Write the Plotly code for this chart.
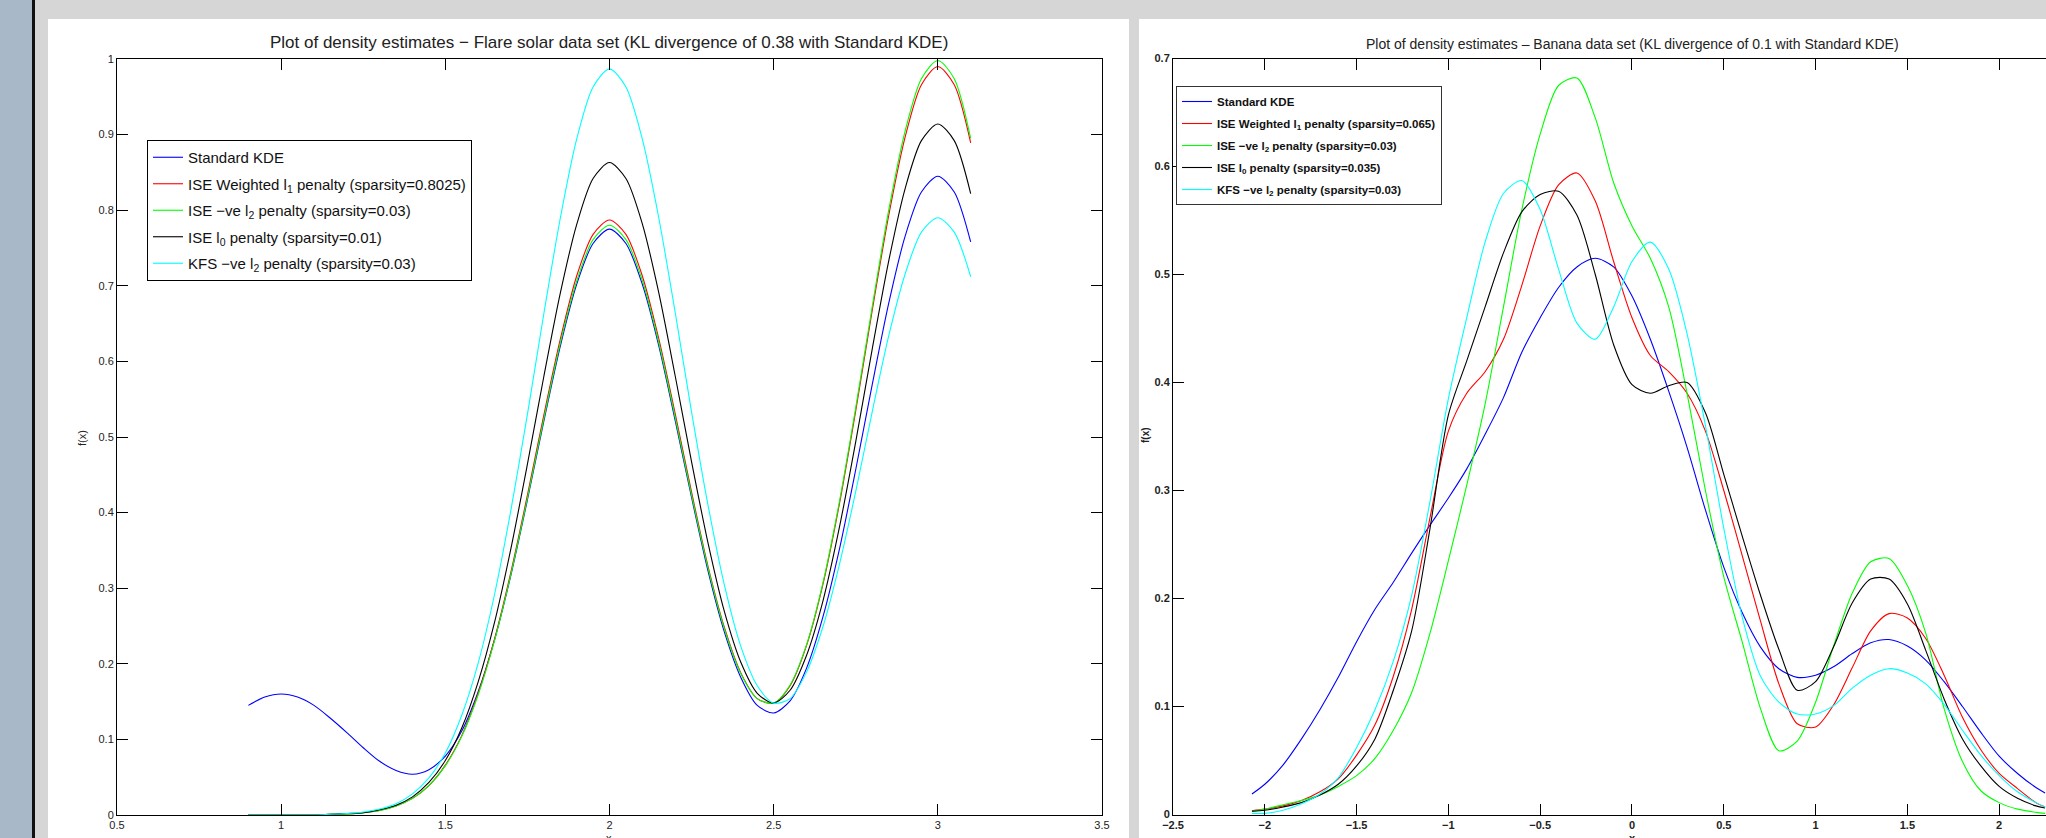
import plotly.graph_objects as go

# ---------------- data: Flare solar (left panel) ----------------
X_FLARE = [0.9, 0.95, 1.0, 1.05, 1.1, 1.15, 1.2, 1.25, 1.3, 1.35, 1.4, 1.45, 1.5, 1.55, 1.6,
           1.65, 1.7, 1.75, 1.8, 1.85, 1.9, 1.95, 2.0, 2.05, 2.1, 2.15, 2.2, 2.25, 2.3, 2.35,
           2.4, 2.45, 2.5, 2.55, 2.6, 2.65, 2.7, 2.75, 2.8, 2.85, 2.9, 2.95, 3.0, 3.05, 3.1]
FLARE_STD = [0.145, 0.156, 0.160, 0.156, 0.145, 0.128, 0.109, 0.089, 0.071, 0.059, 0.054, 0.060,
             0.078, 0.111, 0.163, 0.232, 0.318, 0.417, 0.521, 0.620, 0.702, 0.756, 0.775, 0.756,
             0.702, 0.621, 0.522, 0.420, 0.323, 0.242, 0.182, 0.145, 0.135, 0.151, 0.194, 0.262,
             0.351, 0.457, 0.569, 0.676, 0.765, 0.824, 0.845, 0.824, 0.758]
FLARE_L1 = [0, 0, 0, 0, 0, 0.001, 0.001, 0.003, 0.006, 0.012, 0.022, 0.039, 0.066, 0.105, 0.161,
            0.233, 0.322, 0.423, 0.529, 0.629, 0.713, 0.768, 0.787, 0.768, 0.713, 0.630, 0.531,
            0.427, 0.329, 0.248, 0.188, 0.154, 0.148, 0.171, 0.224, 0.305, 0.411, 0.535, 0.667,
            0.792, 0.896, 0.966, 0.990, 0.966, 0.889]
FLARE_L2 = [0, 0, 0, 0, 0, 0.001, 0.001, 0.003, 0.006, 0.012, 0.022, 0.039, 0.065, 0.104, 0.159,
            0.231, 0.319, 0.419, 0.524, 0.624, 0.706, 0.761, 0.780, 0.761, 0.707, 0.625, 0.526,
            0.423, 0.327, 0.246, 0.187, 0.154, 0.148, 0.172, 0.225, 0.307, 0.414, 0.539, 0.672,
            0.799, 0.904, 0.974, 0.998, 0.974, 0.895]
FLARE_L0 = [0, 0, 0, 0, 0, 0.001, 0.002, 0.003, 0.007, 0.013, 0.024, 0.043, 0.072, 0.115, 0.176,
            0.255, 0.353, 0.464, 0.580, 0.690, 0.781, 0.842, 0.863, 0.842, 0.782, 0.691, 0.581,
            0.467, 0.360, 0.269, 0.202, 0.161, 0.148, 0.165, 0.211, 0.283, 0.380, 0.494, 0.616,
            0.732, 0.828, 0.892, 0.914, 0.892, 0.822]
FLARE_KFS = [0, 0, 0, 0, 0, 0.001, 0.002, 0.004, 0.008, 0.015, 0.028, 0.049, 0.082, 0.132, 0.201,
             0.292, 0.404, 0.530, 0.663, 0.789, 0.894, 0.963, 0.987, 0.963, 0.894, 0.790, 0.665,
             0.533, 0.410, 0.304, 0.223, 0.171, 0.148, 0.154, 0.189, 0.249, 0.331, 0.428, 0.533,
             0.633, 0.715, 0.771, 0.790, 0.771, 0.712]

# ---------------- data: Banana (right panel) ----------------
X_BANANA = [-2.07, -2.0, -1.9, -1.8, -1.7, -1.6, -1.5, -1.4, -1.3, -1.2, -1.1, -1.0, -0.9, -0.8,
            -0.7, -0.6, -0.5, -0.4, -0.3, -0.2, -0.1, 0.0, 0.1, 0.2, 0.3, 0.4, 0.5, 0.6, 0.7,
            0.8, 0.9, 1.0, 1.1, 1.2, 1.3, 1.4, 1.5, 1.6, 1.7, 1.8, 1.9, 2.0, 2.1, 2.2, 2.25]
BANANA_STD = [0.019, 0.028, 0.046, 0.070, 0.097, 0.127, 0.160, 0.190, 0.215, 0.242, 0.268, 0.293,
              0.320, 0.352, 0.386, 0.428, 0.460, 0.488, 0.507, 0.515, 0.507, 0.480, 0.440, 0.392,
              0.340, 0.282, 0.229, 0.187, 0.155, 0.135, 0.127, 0.129, 0.137, 0.149, 0.159, 0.162,
              0.156, 0.143, 0.123, 0.100, 0.076, 0.054, 0.038, 0.025, 0.020]
BANANA_L1 = [0.0035, 0.005, 0.008, 0.013, 0.021, 0.033, 0.055, 0.083, 0.128, 0.190, 0.275, 0.355,
             0.390, 0.410, 0.440, 0.490, 0.545, 0.583, 0.594, 0.568, 0.512, 0.460, 0.425, 0.410,
             0.390, 0.355, 0.300, 0.240, 0.179, 0.121, 0.084, 0.081, 0.102, 0.136, 0.170, 0.186,
             0.182, 0.163, 0.129, 0.090, 0.060, 0.038, 0.024, 0.011, 0.007]
BANANA_L2 = [0.003, 0.005, 0.009, 0.013, 0.018, 0.026, 0.036, 0.052, 0.078, 0.113, 0.168, 0.235,
             0.305, 0.380, 0.470, 0.560, 0.630, 0.675, 0.682, 0.645, 0.585, 0.545, 0.515, 0.470,
             0.390, 0.300, 0.220, 0.160, 0.098, 0.059, 0.068, 0.104, 0.157, 0.205, 0.234, 0.237,
             0.212, 0.168, 0.098, 0.049, 0.022, 0.011, 0.005, 0.002, 0.001]
BANANA_L0 = [0.003, 0.004, 0.007, 0.011, 0.018, 0.028, 0.045, 0.070, 0.115, 0.170, 0.265, 0.370,
             0.420, 0.470, 0.520, 0.558, 0.574, 0.577, 0.555, 0.500, 0.435, 0.398, 0.390, 0.397,
             0.400, 0.372, 0.315, 0.258, 0.203, 0.153, 0.115, 0.123, 0.156, 0.196, 0.218, 0.218,
             0.195, 0.152, 0.107, 0.070, 0.045, 0.026, 0.015, 0.008, 0.006]
BANANA_KFS = [0.001, 0.001, 0.004, 0.010, 0.019, 0.034, 0.062, 0.097, 0.142, 0.203, 0.290, 0.385,
              0.460, 0.530, 0.575, 0.587, 0.560, 0.505, 0.455, 0.440, 0.470, 0.512, 0.530, 0.505,
              0.445, 0.360, 0.265, 0.183, 0.128, 0.104, 0.093, 0.093, 0.101, 0.117, 0.129, 0.135,
              0.131, 0.121, 0.102, 0.078, 0.055, 0.036, 0.021, 0.011, 0.007]

FLARE_NAMES = ["Standard KDE",
               "ISE Weighted l<sub>1</sub> penalty (sparsity=0.8025)",
               "ISE −ve l<sub>2</sub> penalty (sparsity=0.03)",
               "ISE l<sub>0</sub> penalty (sparsity=0.01)",
               "KFS −ve l<sub>2</sub> penalty (sparsity=0.03)"]
BANANA_NAMES = ["Standard KDE",
                "ISE Weighted l<sub>1</sub> penalty (sparsity=0.065)",
                "ISE −ve l<sub>2</sub> penalty (sparsity=0.03)",
                "ISE l<sub>0</sub> penalty (sparsity=0.035)",
                "KFS −ve l<sub>2</sub> penalty (sparsity=0.03)"]
COLORS = ["#0000ff", "#ff0000", "#00ff00", "#000000", "#00ffff"]

FLARE_XTICKS = [0.5, 1, 1.5, 2, 2.5, 3, 3.5]
FLARE_XTEXT = ["0.5", "1", "1.5", "2", "2.5", "3", "3.5"]
FLARE_YTICKS = [0, 0.1, 0.2, 0.3, 0.4, 0.5, 0.6, 0.7, 0.8, 0.9, 1]
FLARE_YTEXT = ["0", "0.1", "0.2", "0.3", "0.4", "0.5", "0.6", "0.7", "0.8", "0.9", "1"]
BANANA_XTICKS = [-2.5, -2, -1.5, -1, -0.5, 0, 0.5, 1, 1.5, 2]
BANANA_XTEXT = ["−2.5", "−2", "−1.5", "−1", "−0.5", "0", "0.5", "1", "1.5", "2"]
BANANA_YTICKS = [0, 0.1, 0.2, 0.3, 0.4, 0.5, 0.6, 0.7]
BANANA_YTEXT = ["0", "0.1", "0.2", "0.3", "0.4", "0.5", "0.6", "0.7"]

W, H = 2046, 838
def px(x):
    return x / W
def py(y):
    return 1 - y / H

FONT = "Liberation Sans, Arial, Helvetica, sans-serif"

fig = go.Figure()
flare_series = [FLARE_STD, FLARE_L1, FLARE_L2, FLARE_L0, FLARE_KFS]
for i, (ys, nm) in enumerate(zip(flare_series, FLARE_NAMES)):
    fig.add_trace(go.Scatter(x=X_FLARE, y=ys, mode="lines", name=nm,
                             line=dict(color=COLORS[i], width=1.1, shape="spline", smoothing=0.8),
                             xaxis="x", yaxis="y", legend="legend", legendgroup="f%d" % i,
                             hoverinfo="skip"))
banana_series = [BANANA_STD, BANANA_L1, BANANA_L2, BANANA_L0, BANANA_KFS]
for i, (ys, nm) in enumerate(zip(banana_series, BANANA_NAMES)):
    fig.add_trace(go.Scatter(x=X_BANANA, y=ys, mode="lines", name=nm,
                             line=dict(color=COLORS[i], width=1.1, shape="spline", smoothing=0.8),
                             xaxis="x2", yaxis="y2", legend="legend2", legendgroup="b%d" % i,
                             hoverinfo="skip"))

axis_common = dict(showgrid=False, zeroline=False, showline=True, linecolor="black", linewidth=1,
                   ticks="inside", ticklen=11, tickwidth=1, tickcolor="black",
                   tickfont=dict(family=FONT, size=11, color="#222"), automargin=False)

shapes = [
    dict(type="rect", xref="paper", yref="paper", x0=0, x1=px(32), y0=0, y1=1,
         fillcolor="#a9b8c8", line=dict(width=0), layer="below"),
    dict(type="rect", xref="paper", yref="paper", x0=px(32), x1=px(35), y0=0, y1=1,
         fillcolor="#111111", line=dict(width=0), layer="below"),
    dict(type="rect", xref="paper", yref="paper", x0=px(48), x1=px(1129), y0=0, y1=py(19),
         fillcolor="white", line=dict(width=0), layer="below"),
    dict(type="rect", xref="paper", yref="paper", x0=px(1139), x1=1, y0=0, y1=py(19),
         fillcolor="white", line=dict(width=0), layer="below"),
]

annotations = [
    dict(text="Plot of density estimates − Flare solar data set (KL divergence of 0.38 with Standard KDE)",
         xref="paper", yref="paper", x=px(609), y=py(42), xanchor="center", yanchor="middle",
         showarrow=False, font=dict(family=FONT, size=17, color="#222")),
    dict(text="Plot of density estimates – Banana data set (KL divergence of 0.1 with Standard KDE)",
         xref="paper", yref="paper", x=px(1632), y=py(44), xanchor="center", yanchor="middle",
         showarrow=False, font=dict(family=FONT, size=14, color="#222")),
    dict(text="f(x)", textangle=-90, xref="paper", yref="paper", x=px(82), y=py(438),
         xanchor="center", yanchor="middle", showarrow=False,
         font=dict(family=FONT, size=11, color="#222")),
    dict(text="f(x)", textangle=-90, xref="paper", yref="paper", x=px(1146), y=py(435),
         xanchor="center", yanchor="middle", showarrow=False,
         font=dict(family=FONT, size=10, color="#222", weight="bold")),
    dict(text="x", xref="paper", yref="paper", x=px(609), y=py(830), xanchor="center", yanchor="top",
         showarrow=False, font=dict(family=FONT, size=11, color="#222")),
    dict(text="x", xref="paper", yref="paper", x=px(1632), y=py(830), xanchor="center", yanchor="top",
         showarrow=False, font=dict(family=FONT, size=11, color="#222", weight="bold")),
]

fig.update_layout(
    width=W, height=H, margin=dict(l=0, r=0, t=0, b=0, autoexpand=False),
    paper_bgcolor="#d6d6d6", plot_bgcolor="white",
    shapes=shapes, annotations=annotations, hovermode=False,
    xaxis=dict(axis_common, domain=[px(117), px(1102)], range=[0.5, 3.5], mirror="ticks",
               tickvals=FLARE_XTICKS, ticktext=FLARE_XTEXT, anchor="y"),
    yaxis=dict(axis_common, domain=[py(815), py(59)], range=[0, 1], mirror="ticks",
               tickvals=FLARE_YTICKS, ticktext=FLARE_YTEXT, anchor="x"),
    xaxis2=dict(axis_common, domain=[px(1173), 1.0], range=[-2.5, 2.255], mirror="ticks",
                tickvals=BANANA_XTICKS, ticktext=BANANA_XTEXT, anchor="y2",
                tickfont=dict(family=FONT, size=11, color="#222", weight="bold")),
    yaxis2=dict(axis_common, domain=[py(814.5), py(58.5)], range=[0, 0.7], mirror=False,
                tickvals=BANANA_YTICKS, ticktext=BANANA_YTEXT, anchor="x2",
                tickfont=dict(family=FONT, size=11, color="#222", weight="bold")),
    legend=dict(x=px(147), y=py(140), xanchor="left", yanchor="top", bgcolor="white",
                bordercolor="black", borderwidth=1, traceorder="grouped", tracegroupgap=4,
                font=dict(family=FONT, size=15, color="#111"), itemclick=False,
                itemdoubleclick=False),
    legend2=dict(x=px(1176), y=py(86), xanchor="left", yanchor="top", bgcolor="white",
                 bordercolor="#333", borderwidth=1, traceorder="grouped", tracegroupgap=3,
                 font=dict(family=FONT, size=11.5, color="#111", weight="bold"), itemclick=False,
                 itemdoubleclick=False),
    showlegend=True,
)

fig.write_html("out.html", config={"displayModeBar": False},
               post_script="document.body.style.margin='0px';document.body.style.overflow='hidden';")
